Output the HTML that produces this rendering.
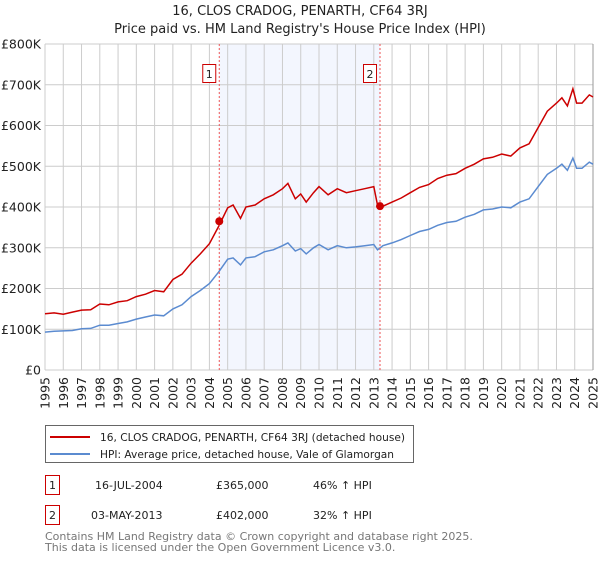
<!DOCTYPE html>
<html><head><meta charset="utf-8"><style>
body{margin:0;background:#fff;font-family:"DejaVu Sans","Liberation Sans",sans-serif;}
svg text{font-family:"DejaVu Sans","Liberation Sans",sans-serif;}
</style></head><body>
<svg width="600" height="560" xmlns="http://www.w3.org/2000/svg">
<text x="300" y="15" text-anchor="middle" font-size="13" fill="#222">16, CLOS CRADOG, PENARTH, CF64 3RJ</text>
<text x="300" y="33" text-anchor="middle" font-size="13" fill="#222">Price paid vs. HM Land Registry's House Price Index (HPI)</text>
<g id="plot"></g>
<g>
<rect x="45.5" y="425.5" width="368" height="37" fill="#fff" stroke="#666"/>
<line x1="50" y1="437" x2="90" y2="437" stroke="#cc0000" stroke-width="2"/>
<text x="100" y="441" font-size="11" textLength="305" lengthAdjust="spacingAndGlyphs" fill="#222">16, CLOS CRADOG, PENARTH, CF64 3RJ (detached house)</text>
<line x1="50" y1="454" x2="90" y2="454" stroke="#5b8bd0" stroke-width="2"/>
<text x="100" y="458" font-size="11" textLength="294" lengthAdjust="spacingAndGlyphs" fill="#222">HPI: Average price, detached house, Vale of Glamorgan</text>
</g>
<g font-size="11" fill="#222">
<rect x="45.5" y="475.5" width="14" height="19" fill="#fff" stroke="#cc0000"/>
<text x="52.5" y="489" text-anchor="middle">1</text>
<text x="95" y="489">16-JUL-2004</text><text x="216" y="489">£365,000</text><text x="313" y="489">46% ↑ HPI</text>
<rect x="45.5" y="505.5" width="14" height="19" fill="#fff" stroke="#cc0000"/>
<text x="52.5" y="519" text-anchor="middle">2</text>
<text x="91" y="519">03-MAY-2013</text><text x="216" y="519">£402,000</text><text x="313" y="519">32% ↑ HPI</text>
</g>
<text x="45" y="540" font-size="11" fill="#777">Contains HM Land Registry data © Crown copyright and database right 2025.</text>
<text x="45" y="551" font-size="11" fill="#777">This data is licensed under the Open Government Licence v3.0.</text>
</svg>
<script>
const hpiYears=[1995,1995.5,1996,1996.5,1997,1997.5,1998,1998.5,1999,1999.5,2000,2000.5,2001,2001.5,2002,2002.5,2003,2003.5,2004,2004.5,2005,2005.3,2005.7,2006,2006.5,2007,2007.5,2008,2008.3,2008.7,2009,2009.3,2009.7,2010,2010.5,2011,2011.5,2012,2012.5,2013,2013.2,2013.5,2014,2014.5,2015,2015.5,2016,2016.5,2017,2017.5,2018,2018.5,2019,2019.5,2020,2020.5,2021,2021.5,2022,2022.5,2023,2023.3,2023.6,2023.9,2024.1,2024.4,2024.8,2025];
const hpiValues=[93,95,96,97,101,102,110,110,114,118,125,130,135,133,150,160,180,195,212,240,272,275,258,275,278,290,295,305,312,292,298,285,300,308,295,305,300,302,305,308,295,305,312,320,330,340,345,355,362,365,375,382,393,395,400,398,412,420,450,480,495,505,490,520,495,495,510,505];
const priceValues=[138,140,137,142,147,148,162,160,167,170,180,186,195,192,222,235,262,285,310,352,398,405,372,400,405,420,430,445,458,420,432,412,435,450,430,445,435,440,445,450,405,402,412,422,435,448,455,470,478,482,495,505,518,522,530,525,545,555,595,635,655,668,648,690,655,655,675,670];
const saleDates=[2004.54,2013.34];
const salePrices=[365,402];
const saleLabels=["1","2"];
const yTicks=[0,100,200,300,400,500,600,700,800];
const yTickLabels=["£0","£100K","£200K","£300K","£400K","£500K","£600K","£700K","£800K"];
const xTicks=[];for(let y=1995;y<=2025;y++)xTicks.push(y);

const NS="http://www.w3.org/2000/svg";
const X0=45,X1=593,Y0=370,Y1=44;
const xs=v=>X0+(v-1995)/30*(X1-X0);
const ys=v=>Y0-v/800*(Y0-Y1);
const g=document.getElementById('plot');
function mk(tag,attrs){const e=document.createElementNS(NS,tag);for(const k in attrs)e.setAttribute(k,attrs[k]);g.appendChild(e);return e;}
let r=mk('rect',{x:xs(saleDates[0]),y:Y1,width:xs(saleDates[1])-xs(saleDates[0]),height:Y0-Y1,fill:'#f3f6fe'});


xTicks.forEach(t=>{
 let l=mk('line',{x1:xs(t),x2:xs(t),y1:Y1,y2:Y0,stroke:'#cccccc','stroke-width':1});
 
 
 let tx=mk('text',{x:0,y:0,'font-size':12.5,fill:'#222','text-anchor':'end',transform:`translate(${xs(t)+4.5},${Y0+7}) rotate(-90)`});
 tx.textContent=t;
 
 
});
yTicks.forEach((t,i)=>{
 let l=mk('line',{x1:X0,x2:X1,y1:ys(t),y2:ys(t),stroke:'#cccccc','stroke-width':1});
 
 
 let tx=mk('text',{x:X0-4,y:ys(t)+4.5,'font-size':12.5,fill:'#222','text-anchor':'end'});
 tx.textContent=yTickLabels[i];
 
 
});
let ax=mk('line',{x1:X1,x2:X1,y1:Y1,y2:Y0,stroke:'#999','stroke-width':1});


function path(vals){return hpiYears.map((y,i)=>(i?'L':'M')+xs(y).toFixed(1)+','+ys(vals[i]).toFixed(1)).join('');}
let hp=mk('path',{d:path(hpiValues),fill:'none',stroke:'#5b8bd0','stroke-width':1.5});


let pp=mk('path',{d:path(priceValues),fill:'none',stroke:'#cc0000','stroke-width':1.5});


saleDates.forEach((d,i)=>{
 let l=mk('line',{x1:xs(d),x2:xs(d),y1:Y1,y2:Y0,stroke:'#ee5555','stroke-width':1,'stroke-dasharray':'2,2'});
 
 
 let c=mk('circle',{cx:xs(d),cy:ys(salePrices[i]),r:4,fill:'#cc0000'});
 
 
 let b=mk('rect',{x:xs(d)-16.5,y:64.5,width:13,height:18,fill:'#fff',stroke:'#cc0000'});
 
 
 let t=mk('text',{x:xs(d)-10,y:78,'font-size':11,fill:'#222','text-anchor':'middle'});
 t.textContent=saleLabels[i];
 
 
});
</script>
</body></html>
